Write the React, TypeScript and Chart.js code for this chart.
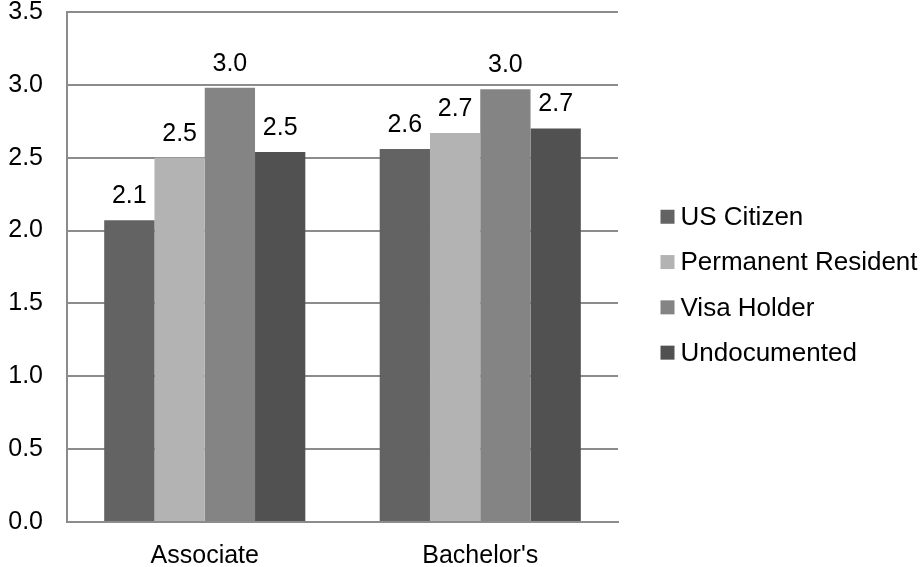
import React, { useEffect, useRef } from "react";
import { Chart, registerables } from "chart.js";

Chart.register(...registerables);

const categories = ["Associate", "Bachelor's"];
const seriesNames = ["US Citizen", "Permanent Resident", "Visa Holder", "Undocumented"];
const usCitizen = [2.07, 2.56];
const permanentResident = [2.5, 2.67];
const visaHolder = [2.98, 2.97];
const undocumented = [2.54, 2.7];
const seriesColors = ["#636363", "#b3b3b3", "#848484", "#515151"];
const yMin = 0;
const yMax = 3.5;
const yStep = 0.5;

const FONT = "'Liberation Sans', Arial, sans-serif";
const FONT_SIZE = 25;
const LEGEND_FONT_SIZE = 26;

export default function App() {
  const canvasRef = useRef<HTMLCanvasElement | null>(null);

  useEffect(() => {
    const canvas = canvasRef.current;
    if (!canvas) return;

    const dataLabels = {
      id: "dataLabels",
      afterDatasetsDraw(chart: any) {
        const ctx = chart.ctx;
        ctx.save();
        ctx.font = `${FONT_SIZE}px ${FONT}`;
        ctx.fillStyle = "#000";
        ctx.textAlign = "center";
        ctx.textBaseline = "middle";
        chart.data.datasets.forEach((ds: any, i: number) => {
          const meta = chart.getDatasetMeta(i);
          meta.data.forEach((el: any, j: number) => {
            const v = ds.data[j] as number;
            ctx.fillText(v.toFixed(1), el.x, el.y - 24);
          });
        });
        ctx.restore();
      },
    };

    const sideLegend = {
      id: "sideLegend",
      afterDraw(chart: any) {
        const ctx = chart.ctx;
        const area = chart.chartArea;
        const n = chart.data.datasets.length;
        const spacing = 45.3;
        const centerY = 284.7;
        const boxX = area.right + 42.5;
        const box = 14;
        ctx.save();
        ctx.font = `${LEGEND_FONT_SIZE}px ${FONT}`;
        ctx.textAlign = "left";
        ctx.textBaseline = "middle";
        chart.data.datasets.forEach((ds: any, i: number) => {
          const y = centerY + (i - (n - 1) / 2) * spacing;
          ctx.fillStyle = ds.backgroundColor;
          ctx.fillRect(boxX, y - box / 2, box, box);
          ctx.fillStyle = "#000";
          ctx.fillText(ds.label, boxX + box + 6, y + 1);
        });
        ctx.restore();
      },
    };

    const seriesValues = [usCitizen, permanentResident, visaHolder, undocumented];

    const chart = new Chart(canvas, {
      type: "bar",
      data: {
        labels: categories,
        datasets: seriesNames.map((name, i) => ({
          label: name,
          data: seriesValues[i],
          backgroundColor: seriesColors[i],
          borderWidth: 0,
          barPercentage: 1,
          categoryPercentage: 0.73,
        })),
      },
      options: {
        responsive: false,
        animation: false,
        layout: { padding: { left: 0, right: 303, top: 12, bottom: 0 } },
        plugins: {
          legend: { display: false },
          tooltip: { enabled: false },
          title: { display: false },
        },
        scales: {
          x: {
            grid: { display: false, drawTicks: false },
            border: { display: true, color: "#8c8c8c", width: 2 },
            ticks: {
              color: "#000",
              font: { family: FONT, size: FONT_SIZE },
              padding: 19,
              maxRotation: 0,
            },
            afterFit(scale: any) {
              scale.height = 45;
              scale.paddingLeft = 0;
              scale.paddingRight = 0;
            },
          },
          y: {
            min: yMin,
            max: yMax,
            grid: { color: "#8c8c8c", lineWidth: 2, drawTicks: false },
            border: { display: true, color: "#8c8c8c", width: 2 },
            ticks: {
              stepSize: yStep,
              color: "#000",
              font: { family: FONT, size: FONT_SIZE, lineHeight: 1 },
              padding: 24,
              callback: (v: any) => Number(v).toFixed(1),
            },
            afterFit(scale: any) {
              scale.width = 67;
              scale.paddingTop = 0;
              scale.paddingBottom = 0;
            },
          },
        },
      },
      plugins: [dataLabels, sideLegend],
    });

    return () => chart.destroy();
  }, []);

  return (
    <div style={{ position: "fixed", left: 0, top: 0, width: 921, height: 567, background: "#fff", overflow: "hidden" }}>
      <canvas ref={canvasRef} width={921} height={567} style={{ display: "block" }} />
    </div>
  );
}
